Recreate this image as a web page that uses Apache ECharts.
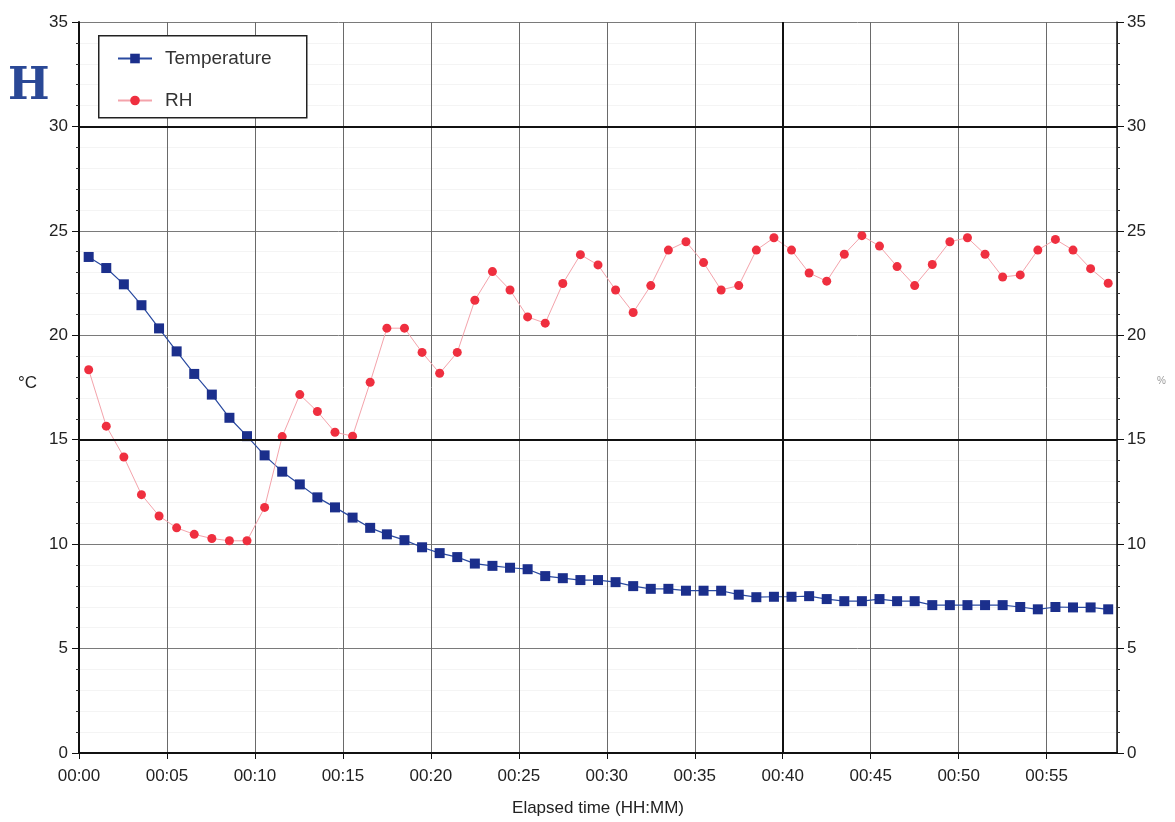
<!DOCTYPE html>
<html>
<head>
<meta charset="utf-8">
<script src="https://cdn.jsdelivr.net/npm/echarts@6/dist/echarts.min.js"></script>
<style>
html,body{margin:0;padding:0;background:#fff;}
#main{width:1175px;height:822px;}
</style>
</head>
<body>
<div id="main"></div>
<script>
// elapsed minutes of each sample
var times = [0.55,1.55,2.55,3.55,4.55,5.55,6.55,7.55,8.55,9.55,
  10.55,11.55,12.55,13.55,14.55,15.55,16.55,17.5,18.5,19.5,
  20.5,21.5,22.5,23.5,24.5,25.5,26.5,27.5,28.5,29.5,
  30.5,31.5,32.5,33.5,34.5,35.5,36.5,37.5,38.5,39.5,
  40.5,41.5,42.5,43.5,44.5,45.5,46.5,47.5,48.5,49.5,
  50.5,51.5,52.5,53.5,54.5,55.5,56.5,57.5,58.5];

var temperature = [23.75,23.22,22.44,21.44,20.33,19.23,18.15,17.16,16.05,15.17,
  14.25,13.47,12.86,12.24,11.76,11.27,10.78,10.47,10.19,9.85,
  9.57,9.38,9.07,8.96,8.87,8.80,8.47,8.37,8.28,8.28,
  8.18,7.99,7.86,7.86,7.77,7.77,7.77,7.58,7.46,7.48,
  7.48,7.51,7.37,7.27,7.27,7.37,7.27,7.27,7.08,7.08,
  7.08,7.08,7.08,6.99,6.88,6.99,6.97,6.97,6.88];

var rh = [18.35,15.65,14.17,12.37,11.35,10.78,10.47,10.27,10.16,10.16,
  11.76,15.15,17.16,16.35,15.36,15.17,17.75,20.34,20.34,19.18,
  18.18,19.18,21.68,23.05,22.17,20.88,20.58,22.48,23.86,23.37,
  22.17,21.09,22.38,24.08,24.48,23.48,22.17,22.38,24.08,24.67,
  24.08,22.98,22.59,23.88,24.77,24.27,23.29,22.38,23.39,24.48,
  24.67,23.88,22.79,22.89,24.08,24.59,24.08,23.19,22.49];

var heavyY = [15, 30];
var heavyX = [40];

function pairs(xs, ys) {
  var out = [];
  for (var i = 0; i < xs.length; i++) out.push([xs[i], ys[i]]);
  return out;
}

var chart = echarts.init(document.getElementById('main'));

var labelFont = { color: '#222', fontSize: 17, fontFamily: 'Arial, "Liberation Sans", sans-serif' };

var heavyLines = [];
heavyY.forEach(function (v) { heavyLines.push({ yAxis: v }); });
heavyX.forEach(function (v) { heavyLines.push({ xAxis: v }); });

option = {
  animation: false,
  backgroundColor: '#fff',
  grid: { left: 79, right: 58, top: 22, bottom: 67 },
  graphic: [
    { type: 'rect', left: 98, top: 35, shape: { width: 208, height: 82 },
      style: { fill: '#fff', stroke: '#222', lineWidth: 1.5 }, z: 5 },
    { type: 'text', left: 8, top: 66,
      style: { text: 'H', fill: '#2a4896', font: 'bold 44px "DejaVu Serif", "Liberation Serif", serif' } },
    { type: 'text', left: 18, top: 375,
      style: { text: '°C', fill: '#222', font: '17px Arial, "Liberation Sans", sans-serif' } },
    { type: 'text', left: 1157, top: 376,
      style: { text: '%', fill: '#999', font: '10px Arial, "Liberation Sans", sans-serif' } }
  ],
  legend: {
    left: 112, top: 44, orient: 'vertical', itemGap: 23,
    itemWidth: 34, itemHeight: 12, z: 6,
    textStyle: { color: '#333', fontSize: 19, padding: [0, 0, 0, 8],
      fontFamily: 'Arial, "Liberation Sans", sans-serif' },
    data: ['Temperature', 'RH']
  },
  xAxis: {
    type: 'value', min: 0, max: 59, interval: 5,
    name: 'Elapsed time (HH:MM)', nameLocation: 'middle', nameGap: 47,
    nameTextStyle: { color: '#222', fontSize: 17, fontFamily: 'Arial, "Liberation Sans", sans-serif' },
    axisLine: { show: true, lineStyle: { color: '#111', width: 2 } },
    axisTick: { show: true, length: 6, lineStyle: { color: '#111' } },
    axisLabel: Object.assign({ margin: 15, showMaxLabel: false,
      formatter: function (v) { return '00:' + (v < 10 ? '0' + v : v); } }, labelFont),
    splitLine: { show: true, lineStyle: { color: '#6a6a6a', width: 1 } }
  },
  yAxis: [
    {
      type: 'value', min: 0, max: 35, interval: 5,
      axisLine: { show: true, lineStyle: { color: '#111', width: 2 } },
      axisTick: { show: true, length: 7, lineStyle: { color: '#111' } },
      minorTick: { show: true, splitNumber: 5, length: 3, lineStyle: { color: '#333' } },
      minorSplitLine: { show: true, lineStyle: { color: '#f4f4f4' } },
      axisLabel: Object.assign({ margin: 11 }, labelFont),
      splitLine: { show: true, lineStyle: { color: '#7a7a7a', width: 1 } }
    },
    {
      type: 'value', min: 0, max: 35, interval: 5, position: 'right',
      axisLine: { show: true, lineStyle: { color: '#111', width: 1.5 } },
      axisTick: { show: true, length: 7, lineStyle: { color: '#111' } },
      minorTick: { show: true, splitNumber: 5, length: 3, lineStyle: { color: '#333' } },
      axisLabel: Object.assign({ margin: 10 }, labelFont),
      splitLine: { show: false }
    }
  ],
  series: [
    {
      name: 'Temperature', type: 'line', yAxisIndex: 0,
      data: pairs(times, temperature),
      symbol: 'rect', symbolSize: 10,
      lineStyle: { color: '#2a4aa0', width: 1.2 },
      itemStyle: { color: '#1b2f8c' },
      markLine: {
        silent: true, symbol: 'none', label: { show: false },
        lineStyle: { color: '#111', width: 2, type: 'solid' },
        data: heavyLines
      },
      z: 3
    },
    {
      name: 'RH', type: 'line', yAxisIndex: 1,
      data: pairs(times, rh),
      symbol: 'circle', symbolSize: 9,
      lineStyle: { color: '#f4a3ab', width: 1 },
      itemStyle: { color: '#ef2f3f' },
      z: 4
    }
  ]
};

chart.setOption(option);
</script>
</body>
</html>
